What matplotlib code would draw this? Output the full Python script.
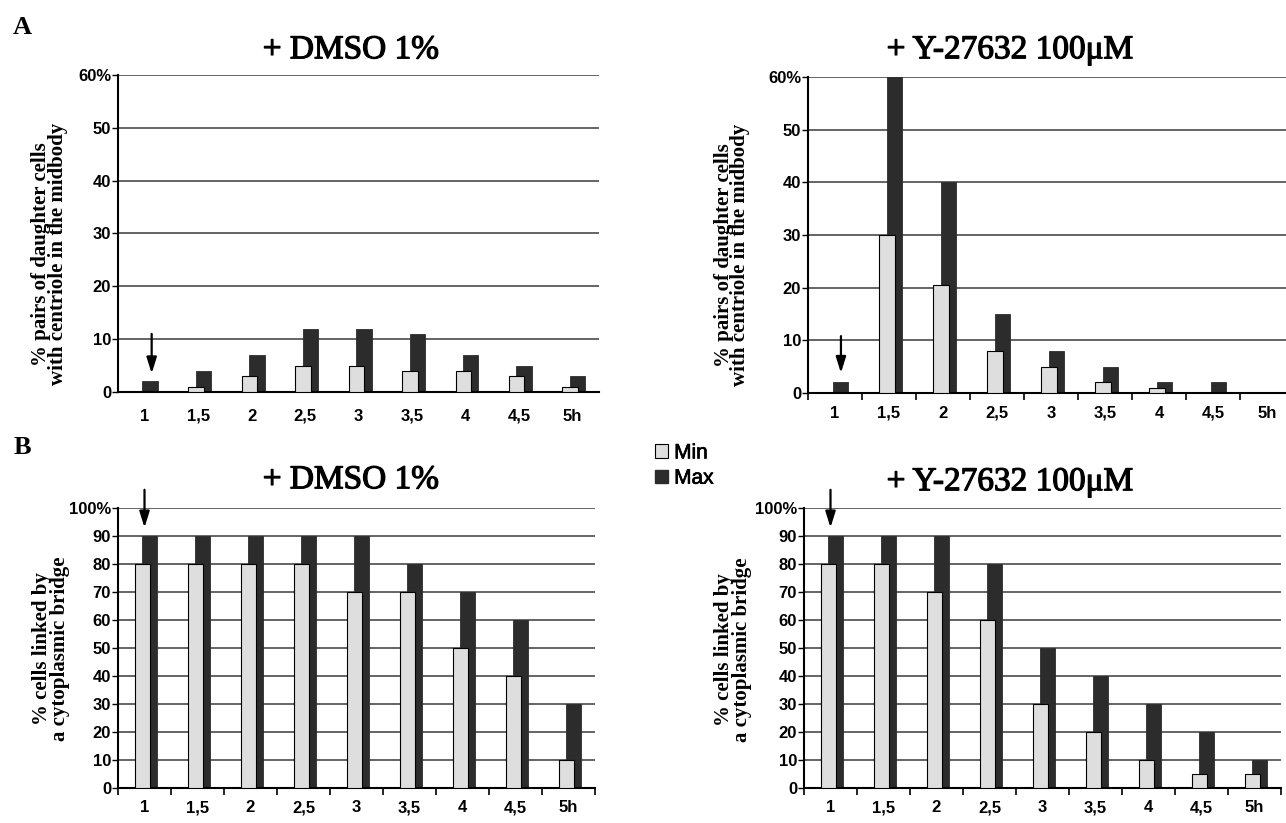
import numpy as np
import matplotlib
matplotlib.use("Agg")
import matplotlib.pyplot as plt
import matplotlib.patheffects as pe
from matplotlib.patches import Patch

# data
hours = ['1', '1,5', '2', '2,5', '3', '3,5', '4', '4,5', '5h']

centriole_dmso_min = [0, 1, 3, 5, 5, 4, 4, 3, 1]
centriole_dmso_max = [2, 4, 7, 12, 12, 11, 7, 5, 3]
centriole_y27_min = [0, 30, 20.5, 8, 5, 2, 1, 0, 0]
centriole_y27_max = [2, 60, 40, 15, 8, 5, 2, 2, 0]

bridge_dmso_min = [80, 80, 80, 80, 70, 70, 50, 40, 10]
bridge_dmso_max = [90, 90, 90, 90, 90, 80, 70, 60, 30]
bridge_y27_min = [80, 80, 70, 60, 30, 20, 10, 5, 5]
bridge_y27_max = [90, 90, 90, 80, 50, 40, 30, 20, 10]

W, H = 1286, 823
MIN_COLOR = '#dedede'
MAX_COLOR = '#2c2c2c'
SERIF = 'Liberation Serif'
SANS = 'Liberation Sans'

fig = plt.figure(figsize=(W / 100, H / 100), dpi=100)


def px_axes(x0, y0, x1, y1):
    return fig.add_axes([x0 / W, 1 - y1 / H, (x1 - x0) / W, (y1 - y0) / H])


def ftext(x, y, s, **kw):
    fig.text(x / W, 1 - y / H, s, **kw)


def panel(ax, vmin, vmax, ymax, arrow_y, arrow_dx, minor_ticks=True, xpad=9):
    x = np.arange(len(hours))
    ax.bar(x + 0.1, vmax, width=0.29, color=MAX_COLOR, edgecolor=MAX_COLOR,
           linewidth=0.6, zorder=2)
    ax.bar(x - 0.04, vmin, width=0.29, color=MIN_COLOR, edgecolor='black',
           linewidth=0.8, zorder=3)
    ax.set_xlim(-0.5, len(hours) - 0.5)
    ax.set_ylim(0, ymax)
    yt = np.arange(0, ymax + 1, 10)
    ax.set_yticks(yt)
    ax.set_yticklabels([str(v) for v in yt[:-1]] + ['%d%%' % ymax])
    ax.yaxis.grid(True, color='#3a3a3a', linewidth=1.1, zorder=0)
    ax.set_axisbelow(True)
    ax.set_xticks(x)
    ax.set_xticklabels(hours)
    ax.tick_params(axis='x', which='major', length=0, pad=xpad)
    if minor_ticks:
        ax.set_xticks(np.arange(-0.5, len(hours), 1.0), minor=True)
        ax.tick_params(axis='x', which='minor', length=5, width=1.2,
                       direction='out')
    ax.tick_params(axis='y', length=4, width=1.0, pad=1)
    for lab in ax.get_xticklabels() + ax.get_yticklabels():
        lab.set_fontfamily(SANS)
        lab.set_fontsize(12)
        lab.set_fontweight('bold')
    for s in ['top', 'right']:
        ax.spines[s].set_visible(False)
    for s in ['left', 'bottom']:
        ax.spines[s].set_linewidth(1.5)
        ax.spines[s].set_color('black')
    ax.annotate('', xy=(arrow_dx, arrow_y[1]), xytext=(arrow_dx, arrow_y[0]),
                annotation_clip=False,
                arrowprops=dict(arrowstyle='-|>,head_length=0.8,head_width=0.25',
                                color='black', lw=1.6, mutation_scale=12,
                                shrinkA=0, shrinkB=0))


ax1 = px_axes(118, 75, 599, 392)
panel(ax1, centriole_dmso_min, centriole_dmso_max, 60, (11, 3.5), 0.13,
      minor_ticks=False, xpad=12)
ax2 = px_axes(808, 77, 1294, 393)
panel(ax2, centriole_y27_min, centriole_y27_max, 60, (10.8, 3.8), 0.11)
ax3 = px_axes(118, 508, 595, 788)
panel(ax3, bridge_dmso_min, bridge_dmso_max, 100, (106.5, 93), 0.0)
ax4 = px_axes(804, 508, 1281, 788)
panel(ax4, bridge_y27_min, bridge_y27_max, 100, (106.5, 93), 0.0)

# titles (scanned look: a bit heavier than plain regular)
thick = [pe.withStroke(linewidth=0.9, foreground='black')]
tkw = dict(family=SERIF, fontsize=24, ha='center', va='center',
           path_effects=thick)
ftext(351, 50, '+ DMSO 1%', **tkw)
ftext(1010, 50, '+ Y-27632 100\u03bcM', **tkw)
ftext(351, 480, '+ DMSO 1%', **tkw)
ftext(1010, 482, '+ Y-27632 100\u03bcM', **tkw)

# panel letters
ftext(22, 28, 'A', family=SERIF, fontsize=19, fontweight='bold',
      ha='center', va='center')
ftext(22, 447, 'B', family=SERIF, fontsize=19, fontweight='bold',
      ha='center', va='center')

# y labels
ykw = dict(family=SERIF, fontsize=15, fontweight='bold', rotation=90,
           ha='center', va='center', linespacing=0.8)
ylab_top = '% pairs of daughter cells\nwith centriole in the midbody'
ylab_bot = '% cells linked by\na cytoplasmic bridge'
ftext(50, 254, ylab_top, **ykw)
ftext(732, 255, ylab_top, **ykw)
ftext(51, 649, ylab_bot, **ykw)
ftext(733, 650, ylab_bot, **ykw)

# legend
handles = [Patch(facecolor=MIN_COLOR, edgecolor='black', linewidth=0.8),
           Patch(facecolor=MAX_COLOR, edgecolor=MAX_COLOR)]
leg = fig.legend(handles, ['Min', 'Max'], loc='upper left',
                 bbox_to_anchor=(645 / W, 1 - 433 / H), frameon=False,
                 handlelength=0.6, handleheight=0.6, handletextpad=0.3,
                 labelspacing=0.3, borderpad=0,
                 prop={'family': SANS, 'size': 15})
for t in leg.get_texts():
    t.set_path_effects([pe.withStroke(linewidth=0.5, foreground='black')])

fig.savefig('out.png', dpi=100)
